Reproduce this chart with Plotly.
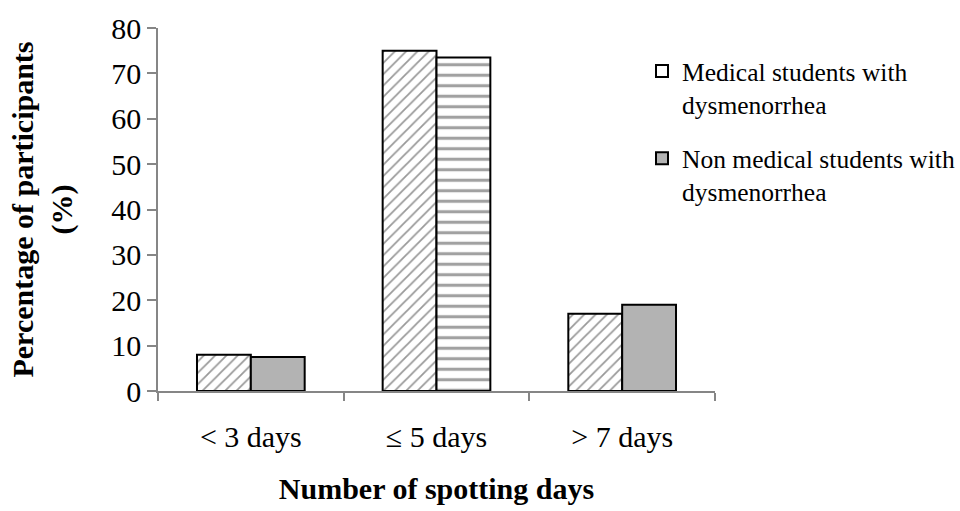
import plotly.graph_objects as go

# Spotting-day categories and percentages for each student group
categories = ["< 3 days", "\u2264 5 days", "> 7 days"]
medical = [8, 75, 17]
non_medical = [7.5, 73.5, 19]
series_names = ["Medical students with<br>dysmenorrhea",
                "Non medical students with<br>dysmenorrhea"]
y_ticks = [0, 10, 20, 30, 40, 50, 60, 70, 80]

SERIF = "Liberation Serif, Times New Roman, serif"
GRAY = "#b3b3b3"
AXIS = "#868686"

# Canvas and plot-area geometry (pixels)
W, H = 960, 511
LEFT, TOP, BOTTOM = 158, 28, 120
PLOT_W = 557
paper_w = W - LEFT

fig = go.Figure()

# Medical students: white bars with a diagonal hatch
fig.add_trace(go.Bar(
    x=categories, y=medical, name=series_names[0], showlegend=False,
    marker=dict(
        color="white",
        line=dict(color="black", width=2),
        pattern=dict(shape="/", fgcolor="#333333", size=8, solidity=0.22,
                     fillmode="overlay"),
    ),
))

# Non medical students: gray bars, horizontal stripes on the middle one
fig.add_trace(go.Bar(
    x=categories, y=non_medical, name=series_names[1], showlegend=False,
    marker=dict(
        color=[GRAY, "white", GRAY],
        line=dict(color="black", width=2),
        pattern=dict(shape=["", "-", ""], fgcolor="black", size=10.5,
                     solidity=0.3, fillmode="overlay"),
    ),
))

# Legend swatches (plain boxes)
for i, (name, col) in enumerate(zip(series_names, ["white", GRAY])):
    fig.add_trace(go.Scatter(
        x=[None], y=[None], mode="markers", name=name,
        legendgroup=f"g{i}",
        marker=dict(symbol="square", size=10, color=col,
                    line=dict(color="black", width=1.5)),
    ))

fig.update_layout(
    width=W, height=H,
    margin=dict(l=LEFT, r=0, t=TOP, b=BOTTOM),
    paper_bgcolor="white", plot_bgcolor="white",
    barmode="group", bargap=0.42, bargroupgap=0,
    font=dict(family=SERIF, size=26, color="black"),
    legend=dict(
        x=1, xanchor="right",
        y=0.945, yanchor="top",
        font=dict(family=SERIF, size=25.5, color="black"),
        tracegroupgap=18, itemsizing="constant", itemwidth=30,
        valign="top", bgcolor="rgba(0,0,0,0)", borderwidth=0,
    ),
    xaxis=dict(
        domain=[0, PLOT_W / paper_w],
        showline=True, linecolor=AXIS, linewidth=1.5,
        ticks="outside", tickson="boundaries", ticklen=8,
        tickcolor=AXIS, tickwidth=1.5, ticklabelstandoff=18,
        tickfont=dict(family=SERIF, size=30, color="black"),
        title=dict(text="<b>Number of spotting days</b>",
                   font=dict(family=SERIF, size=30, color="black"),
                   standoff=26),
        showgrid=False,
    ),
    yaxis=dict(
        range=[0, 80], tickvals=y_ticks,
        showline=True, linecolor=AXIS, linewidth=1.5,
        ticks="outside", ticklen=9, tickcolor=AXIS, tickwidth=1.5,
        tickfont=dict(family=SERIF, size=30, color="black"),
        title=dict(text="<b>Percentage of participants<br>(%)</b>",
                   font=dict(family=SERIF, size=30, color="black"),
                   standoff=30),
        showgrid=False, zeroline=False,
    ),
)

fig.write_html("out.html")
